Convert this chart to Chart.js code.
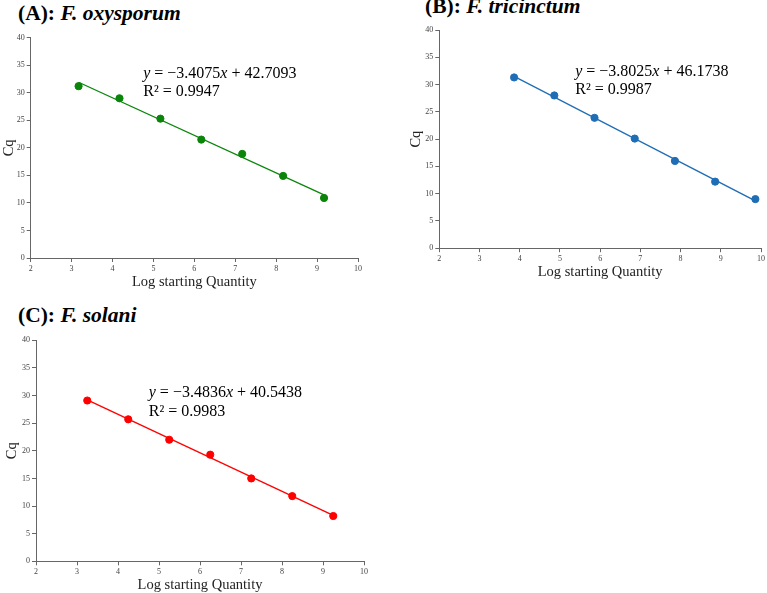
<!DOCTYPE html>
<html>
<head>
<meta charset="utf-8">
<script src="https://cdn.jsdelivr.net/npm/chart.js@4/dist/chart.umd.min.js"></script>
<style>
  html, body { margin:0; padding:0; background:#fff; width:767px; height:593px; overflow:hidden; }
  .box { position:absolute; }
  .ttl { position:absolute; font-family:"Liberation Serif","Times New Roman",serif; font-weight:bold; font-size:21.5px; line-height:19px; white-space:nowrap; color:#000; }
</style>
</head>
<body>
<div class="ttl" id="tA" style="left:18px; top:4px;">(A): <i>F. oxysporum</i></div>
<div class="ttl" id="tB" style="left:425px; top:-3px;">(B): <i>F. tricinctum</i></div>
<div class="ttl" id="tC" style="left:18px; top:306px;">(C): <i>F. solani</i></div>

<div class="box" style="left:0px; top:30px; width:368px; height:261px;"><canvas id="cA"></canvas></div>
<div class="box" style="left:407px; top:20px; width:360px; height:261px;"><canvas id="cB"></canvas></div>
<div class="box" style="left:3px; top:330px; width:371px; height:264px;"><canvas id="cC"></canvas></div>

<script>
// ---- Data ----
const xA = [3.17, 4.17, 5.17, 6.17, 7.17, 8.17, 9.17];
const yA = [31.2, 29.0, 25.3, 21.5, 18.9, 14.9, 10.9];
const slopeA = -3.4075, interceptA = 42.7093, r2A = "0.9947";

const xB = [3.86, 4.86, 5.86, 6.86, 7.86, 8.86, 9.86];
const yB = [31.3, 28.0, 23.9, 20.1, 16.0, 12.2, 9.0];
const slopeB = -3.8025, interceptB = 46.1738, r2B = "0.9987";

const xC = [3.25, 4.25, 5.25, 6.25, 7.25, 8.25, 9.25];
const yC = [29.1, 25.7, 22.0, 19.3, 15.0, 11.8, 8.2];
const slopeC = -3.4836, interceptC = 40.5438, r2C = "0.9983";

const xTicks = [2, 3, 4, 5, 6, 7, 8, 9, 10];
const yTicks = [0, 5, 10, 15, 20, 25, 30, 35, 40];

const SERIF = '"Liberation Serif","Times New Roman",serif';

// Equation label plugin: positioned through the chart's own scales
const eqPlugin = {
  id: 'eq',
  afterDatasetsDraw(chart, args, opts) {
    const {ctx, scales:{x, y}} = chart;
    const px = x.getPixelForValue(opts.x);
    const py1 = y.getPixelForValue(opts.y1);
    const py2 = y.getPixelForValue(opts.y2);
    ctx.save();
    ctx.fillStyle = '#000';
    ctx.textBaseline = 'middle';
    ctx.textAlign = 'left';
    const parts = [
      ['italic 16px ' + SERIF, 'y'],
      ['16px ' + SERIF, ' = \u2212' + Math.abs(opts.slope).toFixed(4)],
      ['italic 16px ' + SERIF, 'x'],
      ['16px ' + SERIF, ' + ' + opts.intercept.toFixed(4)]
    ];
    let cx = px;
    for (const [f, t] of parts) {
      ctx.font = f;
      ctx.fillText(t, cx, py1);
      cx += ctx.measureText(t).width;
    }
    ctx.font = '16px ' + SERIF;
    ctx.fillText('R\u00B2 = ' + opts.r2, px, py2);
    ctx.restore();
  }
};

function makeChart(id, xs, ys, slope, intercept, r2, color, yWidth, xHeight, pad, eqPos) {
  const pts = xs.map((v, i) => ({x: v, y: ys[i]}));
  const x0 = xs[0], x1 = xs[xs.length - 1];
  const trend = [{x: x0, y: slope * x0 + intercept}, {x: x1, y: slope * x1 + intercept}];
  return new Chart(document.getElementById(id), {
    type: 'scatter',
    data: {
      datasets: [
        { data: trend, showLine: true, borderColor: color, borderWidth: 1.3, pointRadius: 0, fill: false, order: 2 },
        { data: pts, showLine: false, backgroundColor: color, borderColor: color, pointRadius: 3.6, pointHoverRadius: 3.6, order: 1 }
      ]
    },
    options: {
      responsive: true,
      maintainAspectRatio: false,
      animation: false,
      devicePixelRatio: 1,
      events: [],
      layout: { padding: pad },
      plugins: {
        legend: { display: false },
        tooltip: { enabled: false },
        eq: Object.assign({slope, intercept, r2}, eqPos)
      },
      scales: {
        x: {
          type: 'linear', min: 2, max: 10,
          afterBuildTicks: s => { s.ticks = xTicks.map(v => ({value: v})); },
          afterFit: s => { s.height = xHeight; },
          grid: { display: true, drawOnChartArea: false, drawTicks: true, tickLength: 4, color: '#666', tickWidth: 1 },
          border: { display: true, color: '#666', width: 1 },
          ticks: { font: { family: SERIF, size: 8 }, color: '#444', padding: 2, maxRotation: 0 },
          title: { display: true, text: 'Log starting Quantity', font: { family: SERIF, size: 14.5 }, color: '#222', padding: 0 }
        },
        y: {
          type: 'linear', min: 0, max: 40,
          afterBuildTicks: s => { s.ticks = yTicks.map(v => ({value: v})); },
          afterFit: s => { s.width = yWidth; },
          grid: { display: true, drawOnChartArea: false, drawTicks: true, tickLength: 4, color: '#666', tickWidth: 1 },
          border: { display: true, color: '#666', width: 1 },
          ticks: { font: { family: SERIF, size: 8 }, color: '#444', padding: 2 },
          title: { display: true, text: 'Cq', font: { family: SERIF, size: 14.5 }, color: '#222', padding: 0 }
        }
      }
    },
    plugins: [eqPlugin]
  });
}

makeChart('cA', xA, yA, slopeA, interceptA, r2A, '#0a850a', 30.7, 33, {left:0, top:7.7, right:10, bottom:0}, {x: 4.75, y1: 33.4, y2: 30.2});
makeChart('cB', xB, yB, slopeB, interceptB, r2B, '#1f6db5', 32.3, 32.8, {left:0, top:10, right:4.3, bottom:0}, {x: 5.38, y1: 32.3, y2: 29.0});
makeChart('cC', xC, yC, slopeC, interceptC, r2C, '#ff0000', 33, 32.7, {left:0, top:10.3, right:10, bottom:0}, {x: 4.75, y1: 30.5, y2: 27.1});
</script>
</body>
</html>
